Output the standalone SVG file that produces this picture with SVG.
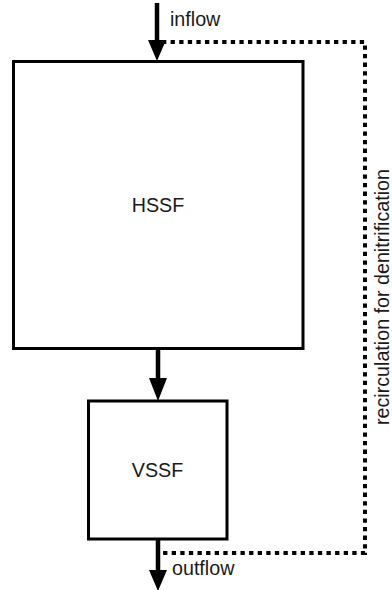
<svg xmlns="http://www.w3.org/2000/svg" width="392" height="590" viewBox="0 0 392 590">
<style>
.box{fill:#fff;stroke:#000;stroke-width:3}
.lbl{font-family:"Liberation Sans",Arial,sans-serif;font-size:19.7px;fill:#1a1a1a}
.shaft{stroke:#000;stroke-width:4.5;fill:none}
.head{fill:#000}
.dot{stroke:#000;stroke-width:4;fill:none;stroke-dasharray:4.3 4.3}
</style>
<rect width="392" height="590" fill="#fff"/>
<g id="connectors">
<path class="dot" d="M162,42 H365 V553 H162"/>
<line class="shaft" x1="157" y1="3" x2="157" y2="44"/>
<polygon class="head" points="148,40 166,40 157,61"/>
<line class="shaft" x1="158" y1="349" x2="158" y2="381"/>
<polygon class="head" points="149,378 167,378 158,401"/>
<line class="shaft" x1="158" y1="539" x2="158" y2="573"/>
<polygon class="head" points="149,570 167,570 158,591"/>
<text class="lbl" x="170" y="26">inflow</text>
<text class="lbl" x="172" y="575">outflow</text>
<text class="lbl" text-anchor="middle" transform="translate(389,297) rotate(-90)">recirculation for denitrification</text>
</g>
<g id="hssf">
<rect class="box" x="13.5" y="61.5" width="289.5" height="287"/>
<text class="lbl" x="158" y="212" text-anchor="middle">HSSF</text>
</g>
<g id="vssf">
<rect class="box" x="88.5" y="401" width="138.5" height="138"/>
<text class="lbl" x="157.5" y="477" text-anchor="middle">VSSF</text>
</g>
</svg>
